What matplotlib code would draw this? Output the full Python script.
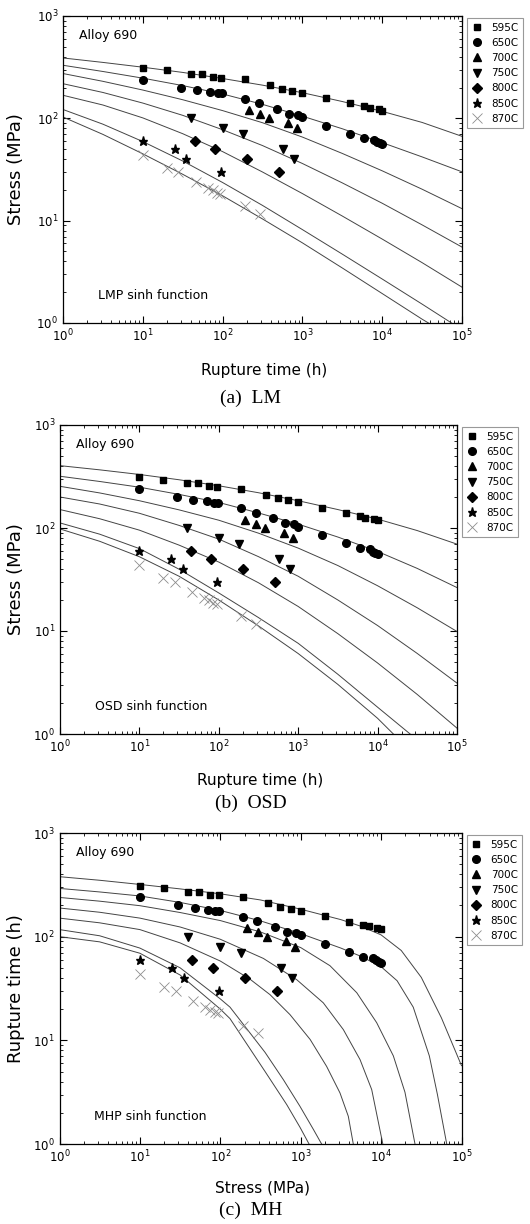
import numpy as np
import matplotlib.pyplot as plt

# measured creep rupture data, Alloy 690 (time h, stress MPa)
t595 = [10, 20, 40, 55, 75, 95, 190, 390, 560, 750, 1000, 2000, 4000, 6000, 7000, 9000, 10000]
s595 = [310, 294, 271, 271, 255, 250, 240, 210, 195, 185, 177, 157, 140, 131, 126, 122, 119]
t650 = [10, 30, 48, 70, 87, 97, 190, 290, 480, 680, 880, 1000, 2000, 4000, 6000, 8000, 8700, 9300, 10000]
s650 = [239, 200, 188, 182, 176, 176, 156, 141, 124, 111, 109, 103, 85, 71, 64, 62, 59, 57, 56]
t700 = [215, 297, 386, 654, 859]
s700 = [120, 110, 100, 90, 80]
t750 = [40, 100, 180, 570, 780]
s750 = [100, 80, 70, 50, 40]
t800 = [45, 80, 200, 510]
s800 = [60, 50, 40, 30]
t850 = [10, 25, 35, 95]
s850 = [60, 50, 40, 30]
t870 = [10, 20, 28, 46, 65, 75, 85, 94, 193, 294]
s870 = [44, 33, 30, 24, 21, 19.8, 18.6, 18.4, 13.9, 11.7]

labels = ["595C", "650C", "700C", "750C", "800C", "850C", "870C"]

# fitted curves, one list per temperature
hd = [1, 3.16, 10, 31.6, 100, 316, 1e3, 3160, 1e4, 31600, 1e5]
lm_t = [hd, hd, hd, hd, hd,
        [1, 3.16, 10, 31.6, 100, 316, 1e3, 3160, 1e4, 31600, 74000],
        [1, 3.16, 10, 31.6, 100, 316, 1e3, 3160, 1e4, 31600, 38000]]
lm_s = [[389, 352, 316, 281, 245, 211, 178, 146, 117, 91.2, 66.7],
        [330, 287, 247, 209, 173, 137, 105, 79.1, 57.9, 42.0, 30.0],
        [274, 230, 189, 152, 119, 90.6, 65.6, 45.4, 30.7, 20.3, 13.1],
        [218, 179, 141, 107, 77.4, 54.2, 36.2, 23.4, 14.8, 9.1, 5.52],
        [168, 135, 101, 70.8, 47.3, 29.9, 18.4, 11.1, 6.61, 3.89, 2.24],
        [122, 87.7, 59.3, 38.3, 23.6, 14.1, 8.18, 4.71, 2.69, 1.53, 1.0],
        [103, 69.7, 45.0, 28.4, 17.5, 10.4, 6.07, 3.45, 1.94, 1.09, 1.0]]

osd_t = [hd, hd, hd, hd, hd,
         [1, 3.16, 10, 31.6, 100, 316, 1e3, 3160, 1e4, 25700],
         [1, 3.16, 10, 31.6, 100, 316, 1e3, 3160, 1e4, 15800]]
osd_s = [[403, 367, 331, 294, 257, 220, 184, 151, 122, 94.4, 69.7],
         [318, 283, 249, 212, 177, 140, 109, 81.7, 59.2, 40.5, 26.4],
         [254, 219, 184, 150, 119, 89.1, 63.8, 43.2, 27.5, 16.8, 9.89],
         [200, 171, 139, 106, 78.0, 52.7, 34.0, 20.0, 11.3, 6.05, 3.12],
         [151, 123, 95.3, 68.2, 46.7, 29.4, 17.3, 9.42, 4.89, 2.42, 1.14],
         [112, 87.1, 63.1, 39.8, 23.4, 13.5, 7.59, 3.80, 1.82, 1.0],
         [97.9, 74.3, 52.6, 34.0, 20.0, 11.2, 6.04, 3.03, 1.42, 1.0]]

mh_t = [[1, 3.16, 10, 31.6, 100, 316, 1e3, 3160, 5620, 1e4, 17800, 31600, 56200, 1e5],
        [1, 3.16, 10, 31.6, 100, 316, 1e3, 3160, 5620, 1e4, 15800, 25100, 39800, 50100, 65500],
        [1, 3.16, 10, 31.6, 100, 316, 1000, 2310, 4980, 8810, 14200, 19800, 26400],
        [1, 3.16, 10, 31.6, 100, 343, 891, 1910, 3390, 5470, 7640, 10500],
        [1, 3.16, 10, 31.6, 100, 234, 415, 736, 1310, 2100, 3080, 3910, 4510],
        [1, 3.16, 10, 31.6, 100, 132, 360, 608, 979, 1440, 1820],
        [1, 3.16, 10, 31.6, 100, 132, 360, 670, 980, 1270]]
mh_s = [[379, 350, 319, 289, 259, 226, 184, 146, 126, 104, 73.6, 40.5, 16.5, 5.70],
        [292, 270, 247, 214, 179, 142, 107, 77.6, 64.6, 51.3, 37.6, 20.9, 7.08, 3.02, 1.0],
        [239, 220, 199, 171, 143, 111, 78.5, 52.5, 28.8, 14.8, 7.08, 3.16, 1.0],
        [189, 172, 151, 124, 94.4, 61.7, 38.5, 23.0, 12.7, 6.52, 3.35, 1.0],
        [151, 136, 117, 87.1, 58.2, 38.9, 27.6, 17.7, 10.2, 5.61, 3.11, 1.85, 1.0],
        [117, 102, 77.6, 50.1, 25.1, 20.9, 7.66, 4.18, 2.31, 1.38, 1.0],
        [100, 89.1, 69.2, 42.7, 20.0, 16.2, 5.01, 2.40, 1.45, 1.0]]

pts = [(t595, s595), (t650, s650), (t700, s700), (t750, s750),
       (t800, s800), (t850, s850), (t870, s870)]
marks = ['s', 'o', '^', 'v', 'D', '*', 'x']
sizes = [4.5, 5.5, 5.5, 5.5, 4.8, 6.5, 6.5]

W, H = 530, 1224
fig = plt.figure(figsize=(W / 100, H / 100), dpi=100)


def px(x0, y0, x1, y1):
    # pixel box -> figure rect
    return [x0 / W, 1 - y1 / H, (x1 - x0) / W, (y1 - y0) / H]


def panel(box, ct, cs, xlab, ylab, note, caption, lab_y, cap_y):
    ax = fig.add_axes(px(*box))
    for t, s in zip(ct, cs):
        ax.plot(t, s, color='#444444', lw=0.7)
    for (t, s), m, ms, lab in zip(pts, marks, sizes, labels):
        if m == 'x':
            ax.plot(t, s, ls='none', marker='x', ms=ms, mew=0.6, color='#8c8c8c', label=lab)
        else:
            ax.plot(t, s, ls='none', marker=m, ms=ms, color='black', label=lab)
    ax.set_xscale('log')
    ax.set_yscale('log')
    ax.set_xlim(1, 1e5)
    ax.set_ylim(1, 1e3)
    ax.tick_params(which='both', direction='in', top=True, right=True, labelsize=8.5)
    ax.tick_params(which='major', length=5, width=0.8)
    ax.tick_params(which='minor', length=2.5, width=0.6)
    for sp in ax.spines.values():
        sp.set_linewidth(0.9)
    ax.text(0.04, 0.937, "Alloy 690", transform=ax.transAxes, fontsize=9, va='center')
    ax.text(0.087, 0.09, note, transform=ax.transAxes, fontsize=9, va='center')
    leg = ax.legend(loc='upper left', bbox_to_anchor=(1.013, 0.992), borderaxespad=0,
                    fontsize=7.5, handlelength=1.0, handletextpad=0.9, labelspacing=0.5,
                    borderpad=0.4, fancybox=False, framealpha=1, edgecolor='#999999')
    leg.get_frame().set_linewidth(0.8)
    xc = (box[0] + box[2]) / 2
    fig.text(xc / W + 0.003, 1 - lab_y / H, xlab, fontsize=11, ha='center', va='center')
    fig.text(16 / W, 1 - ((box[1] + box[3]) / 2) / H, ylab, fontsize=13, rotation=90,
             ha='center', va='center')
    fig.text(251 / W, 1 - cap_y / H, caption, fontsize=14, ha='center', va='center',
             family='Liberation Serif')
    return ax


panel((63, 16, 462, 323), lm_t, lm_s, "Rupture time (h)", "Stress (MPa)",
      "LMP sinh function", "(a)  LM", 371, 398)
panel((60, 425, 457, 734), osd_t, osd_s, "Rupture time (h)", "Stress (MPa)",
      "OSD sinh function", "(b)  OSD", 781, 803)
panel((59.5, 833, 461.5, 1144), mh_t, mh_s, "Stress (MPa)", "Rupture time (h)",
      "MHP sinh function", "(c)  MH", 1188, 1210)

fig.savefig("out.png", dpi=100)
